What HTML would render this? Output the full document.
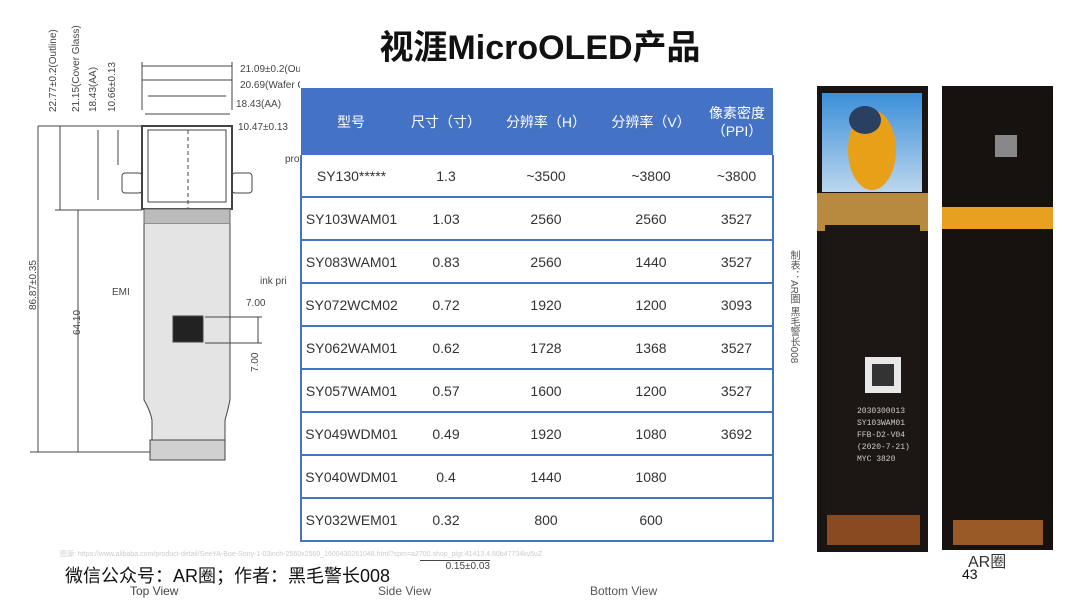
<!DOCTYPE html>
<html><head><meta charset="utf-8"><style>
body{margin:0;width:1080px;height:608px;background:#fff;position:relative;overflow:hidden;font-family:"Liberation Sans","Noto Sans CJK SC",sans-serif}
.t{position:absolute}
table{position:absolute;left:300px;top:88px;width:474px;border-collapse:collapse;font-size:14px;color:#333}
th{background:#4472c4;color:#fff;font-weight:normal;height:67px;padding:0;font-size:14px;line-height:18px}
td{height:41px;border-bottom:2px solid #4472c4;text-align:center;padding:0;background:#fff}
tr td:first-child{border-left:2px solid #4472c4}
tr td:last-child{border-right:2px solid #4472c4}
</style></head><body>
<div class="t" style="left:0;width:1080px;top:20px;text-align:center;font-size:34px;font-weight:bold;color:#111">视涯MicroOLED产品</div>
<svg class="t" style="left:0;top:0" width="300" height="608" stroke="#444" fill="none" stroke-width="1">
<g font-size="10" fill="#444" stroke="none" font-family="Liberation Sans">
<text transform="translate(56,112) rotate(-90)">22.77±0.2(Outline)</text>
<text transform="translate(79,112) rotate(-90)">21.15(Cover Glass)</text>
<text transform="translate(96,112) rotate(-90)">18.43(AA)</text>
<text transform="translate(115,112) rotate(-90)">10.66±0.13</text>
<text transform="translate(36,310) rotate(-90)">86.87±0.35</text>
<text transform="translate(80,335) rotate(-90)">64.10</text>
<text transform="translate(258,372) rotate(-90)">7.00</text>
<text x="112" y="295">EMI</text><text x="246" y="306">7.00</text>
<text x="260" y="284">ink pri</text><text x="285" y="162">pro</text>
<text x="240" y="72">21.09±0.2(Outline)</text><text x="240" y="88">20.69(Wafer Cover Glass)</text>
<text x="236" y="107">18.43(AA)</text><text x="238" y="130">10.47±0.13</text>
<text x="130" y="595" font-size="12">Top View</text>
</g>
<line x1="142" y1="62" x2="142" y2="110"/><line x1="232" y1="62" x2="232" y2="110"/>
<line x1="142" y1="66" x2="232" y2="66"/><line x1="142" y1="80" x2="232" y2="80"/><line x1="148" y1="96" x2="226" y2="96"/><line x1="145" y1="114" x2="230" y2="114"/>
<rect x="142" y="126" width="90" height="83" stroke-width="2"/>
<rect x="148" y="130" width="78" height="72"/>
<line x1="188" y1="130" x2="188" y2="460" stroke-dasharray="4 3"/>
<rect x="122" y="173" width="20" height="20" rx="3"/><rect x="232" y="173" width="20" height="20" rx="3"/>
<line x1="38" y1="126" x2="142" y2="126"/><line x1="55" y1="210" x2="142" y2="210"/>
<line x1="38" y1="126" x2="38" y2="452"/><line x1="78" y1="210" x2="78" y2="452"/><line x1="60" y1="126" x2="60" y2="210"/><line x1="98" y1="130" x2="98" y2="200"/><line x1="118" y1="130" x2="118" y2="165"/>
<line x1="30" y1="452" x2="150" y2="452"/>
<rect x="144" y="209" width="86" height="15" fill="#bbb" stroke="#666"/>
<path d="M144 224 V400 Q150 410 152 420 V440 H225 V420 Q228 410 230 400 V224" fill="#e4e4e4"/>
<rect x="150" y="440" width="75" height="20" fill="#d0d0d0"/>
<rect x="173" y="316" width="30" height="26" fill="#222"/>
<line x1="205" y1="317" x2="262" y2="317"/><line x1="205" y1="343" x2="262" y2="343"/><line x1="258" y1="317" x2="258" y2="343"/>
</svg>
<div class="t" style="left:60px;top:549px;font-size:7px;color:#ccc">图源: https://www.alibaba.com/product-detail/SeeYA-Boe-Sony-1-03inch-2560x2560_1600430261048.html?spm=a2700.shop_plgr.41413.4.60b47734kv5uZ</div>
<div class="t" style="left:65px;top:562px;font-size:18px;color:#111">微信公众号：AR圈；作者：黑毛警长008</div>
<div class="t" style="left:378px;top:584px;font-size:12px;color:#555">Side View</div>
<div class="t" style="left:590px;top:584px;font-size:12px;color:#555">Bottom View</div>
<div class="t" style="left:420px;top:560px;font-size:10px;color:#444;border-top:1px solid #444;width:70px;text-align:right">0.15±0.03</div>
<table>
<tr><th style="width:100px">型号</th><th style="width:90px">尺寸（寸）</th><th style="width:110px">分辨率（H）</th><th style="width:100px">分辨率（V）</th><th>像素密度<br>（PPI）</th></tr>
<tr><td>SY130*****</td><td>1.3</td><td>~3500</td><td>~3800</td><td>~3800</td></tr>
<tr><td>SY103WAM01</td><td>1.03</td><td>2560</td><td>2560</td><td>3527</td></tr>
<tr><td>SY083WAM01</td><td>0.83</td><td>2560</td><td>1440</td><td>3527</td></tr>
<tr><td>SY072WCM02</td><td>0.72</td><td>1920</td><td>1200</td><td>3093</td></tr>
<tr><td>SY062WAM01</td><td>0.62</td><td>1728</td><td>1368</td><td>3527</td></tr>
<tr><td>SY057WAM01</td><td>0.57</td><td>1600</td><td>1200</td><td>3527</td></tr>
<tr><td>SY049WDM01</td><td>0.49</td><td>1920</td><td>1080</td><td>3692</td></tr>
<tr><td>SY040WDM01</td><td>0.4</td><td>1440</td><td>1080</td><td></td></tr>
<tr><td>SY032WEM01</td><td>0.32</td><td>800</td><td>600</td><td></td></tr>
</table>
<div class="t" style="left:786px;top:250px;font-size:10px;color:#555;writing-mode:vertical-rl">制表：AR圈 黑毛警长008</div>
<svg class="t" style="left:810px;top:80px" width="260" height="480">
<rect x="7" y="6" width="111" height="466" fill="#1a1512"/>
<defs><linearGradient id="sky" x1="0" y1="0" x2="0" y2="1"><stop offset="0" stop-color="#3a8fd8"/><stop offset="1" stop-color="#bcd6ee"/></linearGradient></defs>
<rect x="12" y="13" width="100" height="99" fill="url(#sky)"/>
<ellipse cx="62" cy="70" rx="24" ry="40" fill="#e8a018"/>
<ellipse cx="55" cy="40" rx="16" ry="14" fill="#2a4060"/>
<rect x="7" y="113" width="111" height="38" fill="#b88a40"/>
<rect x="15" y="145" width="95" height="290" fill="#1c1714"/>
<rect x="55" y="277" width="36" height="36" fill="#e8e8e8"/><rect x="62" y="284" width="22" height="22" fill="#333"/>
<g fill="#ccc" font-size="8" font-family="Liberation Mono"><text x="47" y="333">2030300013</text><text x="47" y="345">SY103WAM01</text><text x="47" y="357">FFB-D2-V04</text><text x="47" y="369">(2020-7-21)</text><text x="47" y="381">MYC 3820</text></g>
<rect x="17" y="435" width="93" height="30" fill="#8a4a20"/>
<rect x="132" y="6" width="111" height="464" fill="#17120f"/>
<rect x="132" y="127" width="111" height="22" fill="#e8a020"/>
<rect x="185" y="55" width="22" height="22" fill="#888"/>
<rect x="143" y="440" width="90" height="25" fill="#9a5a28"/>
</svg>
<div class="t" style="left:968px;top:548px;font-size:16px;color:#333">AR圈</div>
<div class="t" style="left:962px;top:566px;font-size:14px;color:#111">43</div>
</body></html>
